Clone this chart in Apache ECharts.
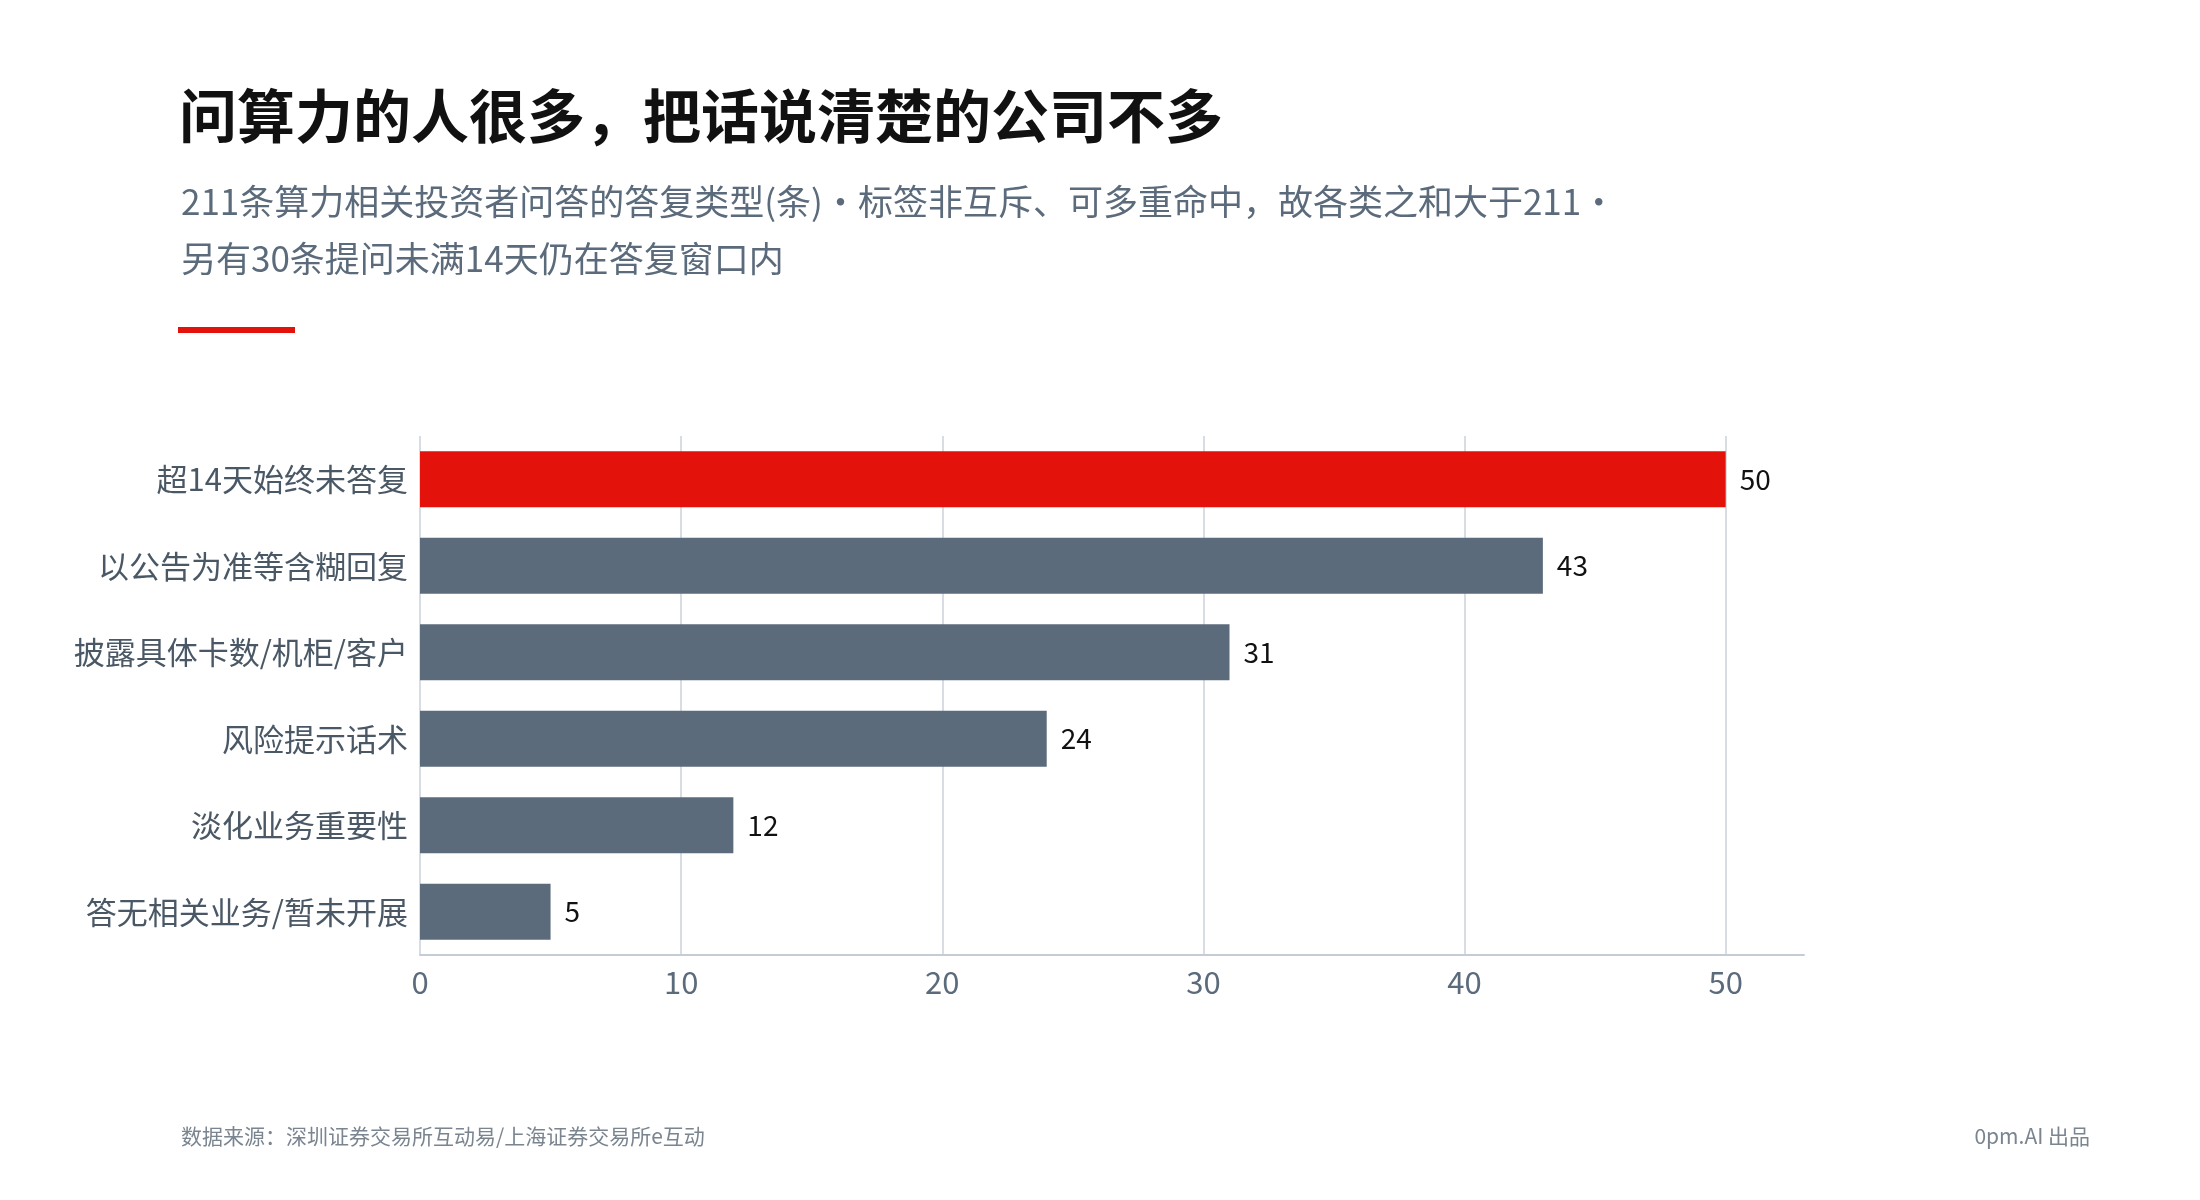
<!DOCTYPE html>
<html>
<head>
<meta charset="utf-8">
<script src="https://cdn.jsdelivr.net/npm/echarts@6/dist/echarts.min.js"></script>
<style>
    html, body { margin: 0; padding: 0; background: #fff; }
    #chart { width: 2200px; height: 1200px; }
</style>
</head>
<body>
<div id="chart"></div>
<script>
// Data
const categories = ['超14天始终未答复', '以公告为准等含糊回复', '披露具体卡数/机柜/客户', '风险提示话术', '淡化业务重要性', '答无相关业务/暂未开展'];
const counts = [50, 43, 31, 24, 12, 5];
const xTicks = [0, 10, 20, 30, 40, 50];

const font = '"Noto Sans CJK SC", "Noto Sans", sans-serif';
const chart = echarts.init(document.getElementById('chart'));

const options = {
    backgroundColor: '#fff',
    textStyle: { fontFamily: font },
    title: [
        {
            text: '问算力的人很多，把话说清楚的公司不多',
            left: 174, top: 82,
            textStyle: { fontSize: 58, fontWeight: 'bold', color: '#111', fontFamily: font }
        },
        {
            text: '211条算力相关投资者问答的答复类型(条)・标签非互斥、可多重命中，故各类之和大于211・\n另有30条提问未满14天仍在答复窗口内',
            left: 176, top: 168,
            textStyle: { fontSize: 35, fontWeight: 'normal', color: '#5b6b7b', lineHeight: 57, fontFamily: font }
        },
        {
            text: '数据来源：深圳证券交易所互动易/上海证券交易所e互动',
            left: 176, top: 1121,
            textStyle: { fontSize: 21, fontWeight: 'normal', color: '#7a8590', fontFamily: font }
        },
        {
            text: '0pm.AI 出品',
            right: 105, top: 1121,
            textStyle: { fontSize: 21, fontWeight: 'normal', color: '#7a8590', fontFamily: font }
        }
    ],
    graphic: [
        { type: 'rect', shape: { x: 178, y: 327, width: 117, height: 6 }, style: { fill: '#e3120b' } }
    ],
    grid: { left: 420, right: 396, top: 436, bottom: 245 },
    xAxis: {
        type: 'value',
        min: 0, max: 53, interval: 10,
        axisLine: { show: true, lineStyle: { color: '#c5ccd5', width: 2 } },
        axisTick: { show: false },
        splitLine: { showMaxLine: false, lineStyle: { color: '#d8dde3', width: 2 } },
        axisLabel: {
            fontSize: 31, color: '#5b6b7b', margin: 12,
            formatter: v => xTicks.includes(v) ? String(v) : '',
            showMaxLabel: false
        }
    },
    yAxis: {
        type: 'category',
        inverse: true,
        data: categories,
        axisLine: { show: false },
        axisTick: { show: false },
        axisLabel: { fontSize: 31, color: '#4a5866', margin: 12 }
    },
    series: [
        {
            type: 'bar',
            barCategoryGap: '35%',
            data: counts.map((v, i) => ({
                value: v,
                itemStyle: { color: i === 0 ? '#e3120b' : '#5b6b7b' }
            })),
            label: { show: true, position: 'right', distance: 14, fontSize: 28, color: '#111' }
        }
    ]
};

chart.setOption(options);
</script>
</body>
</html>
